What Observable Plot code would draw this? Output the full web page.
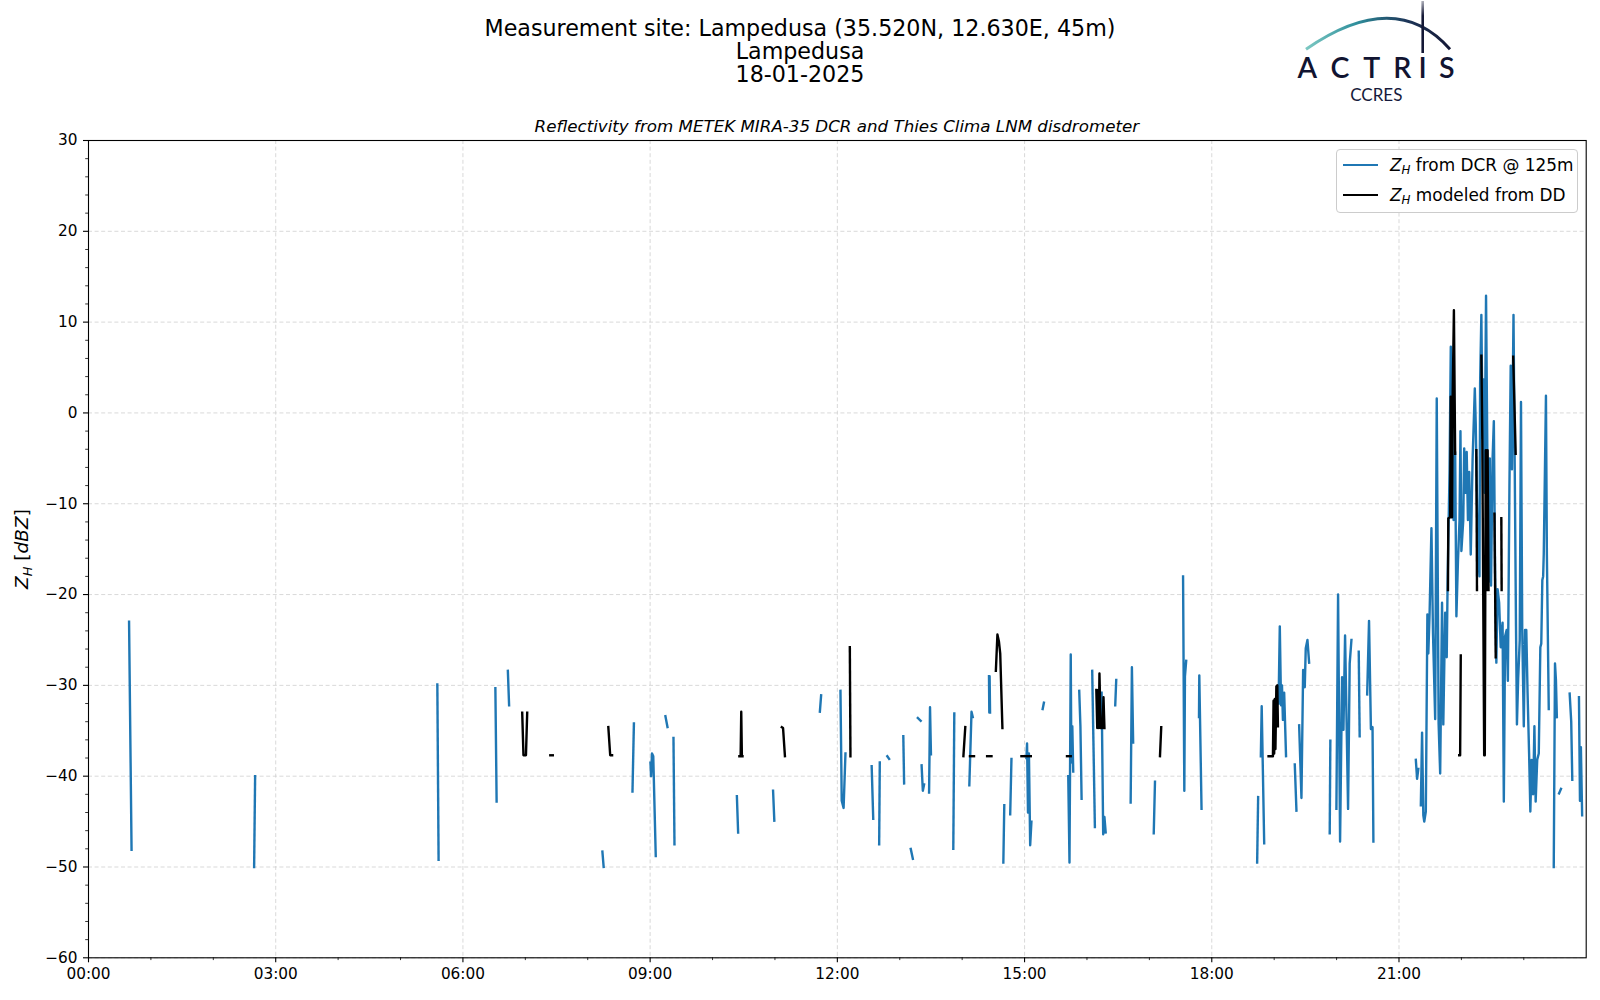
<!DOCTYPE html>
<html>
<head>
<meta charset="utf-8">
<script src="https://cdn.jsdelivr.net/npm/d3@7"></script>
<script src="https://cdn.jsdelivr.net/npm/@observablehq/plot@0.6"></script>
<style>
html,body{margin:0;padding:0;background:#fff;overflow:hidden;}
#fig{position:relative;width:1600px;height:1000px;font-family:"DejaVu Sans",sans-serif;color:#000;}
#header{height:110px;}
.ov{position:absolute;z-index:3;}
#title{left:0;top:17px;width:1600px;text-align:center;font-size:22.2px;line-height:23px;white-space:nowrap;}
#subtitle{left:88px;top:115.5px;width:1497.7px;text-align:center;font-size:16.7px;line-height:20px;font-style:italic;white-space:nowrap;}
#ylabel{left:23px;top:548.5px;transform:translate(-50%,-50%) rotate(-90deg);font-size:18.5px;white-space:nowrap;}
#ylabel sub, #legend sub{font-size:0.7em;vertical-align:-0.25em;}
#legend{left:1336px;top:149px;width:240px;height:62px;border:1px solid #cccccc;border-radius:4px;background:rgba(255,255,255,0.85);}
.lrow{position:absolute;left:0;height:30px;width:240px;}
.lsw{position:absolute;left:6px;top:14px;width:35px;height:0;border-top:2.3px solid;}
.ltx{position:absolute;left:53px;top:0;line-height:30px;font-size:16.9px;white-space:nowrap;}
#chart{position:absolute;left:0;top:110px;z-index:1;}
</style>
</head>
<body>
<div id="fig">
  <div id="header"></div>
  <div id="title" class="ov">Measurement site: Lampedusa (35.520N, 12.630E, 45m)<br>Lampedusa<br>18-01-2025</div>
  <svg class="ov" style="left:0;top:0" width="1600" height="110">
    <defs>
      <linearGradient id="arcg" x1="1306" y1="0" x2="1450" y2="0" gradientUnits="userSpaceOnUse">
        <stop offset="0" stop-color="#7cc8c2"/>
        <stop offset="0.35" stop-color="#2f8f9c"/>
        <stop offset="0.7" stop-color="#1d3558"/>
        <stop offset="1" stop-color="#141836"/>
      </linearGradient>
      <linearGradient id="vg" x1="0" y1="0" x2="0" y2="53" gradientUnits="userSpaceOnUse">
        <stop offset="0" stop-color="#141836" stop-opacity="0.3"/>
        <stop offset="0.3" stop-color="#141836" stop-opacity="1"/>
      </linearGradient>
    </defs>
    <path d="M1306,49.3 Q1395.4,-12.7 1450,49.3" fill="none" stroke="url(#arcg)" stroke-width="3"/>
    <line x1="1422.7" y1="1" x2="1422.7" y2="53" stroke="url(#vg)" stroke-width="2.6"/>
    <g font-family="Lato, 'Open Sans', sans-serif" font-size="28.5" fill="#111431" text-anchor="middle" font-weight="600">
      <text x="1307.3" y="77.5">A</text>
      <text x="1340" y="77.5">C</text>
      <text x="1371.7" y="77.5">T</text>
      <text x="1402.3" y="77.5">R</text>
      <text x="1422.7" y="77.5">I</text>
      <text x="1446.7" y="77.5">S</text>
    </g>
    <text x="1376.3" y="100.5" font-family="Lato, 'Open Sans', sans-serif" font-size="17" fill="#161a3c" text-anchor="middle">CCRES</text>
  </svg>
  <div id="subtitle" class="ov">Reflectivity from METEK MIRA-35 DCR and Thies Clima LNM disdrometer</div>
  <div id="ylabel" class="ov"><i>Z</i><sub><i>H</i></sub> [<i>dBZ</i>]</div>
  <div id="legend" class="ov">
    <div class="lrow" style="top:0px"><div class="lsw" style="border-color:#1f77b4"></div><div class="ltx"><i>Z</i><sub><i>H</i></sub> from DCR @ 125m</div></div>
    <div class="lrow" style="top:30px"><div class="lsw" style="border-color:#000"></div><div class="ltx"><i>Z</i><sub><i>H</i></sub> modeled from DD</div></div>
  </div>
  <div id="chart"></div>
</div>
<script>
// ---- tick values ----
const xTicks = [0, 3, 6, 9, 12, 15, 18, 21];
const xMinor = [1, 2, 4, 5, 7, 8, 10, 11, 13, 14, 16, 17, 19, 20, 22, 23];
const yTicks = [-60, -50, -40, -30, -20, -10, 0, 10, 20, 30];
const yMinor = [-58,-56,-54,-52,-48,-46,-44,-42,-38,-36,-34,-32,-28,-26,-24,-22,-18,-16,-14,-12,-8,-6,-4,-2,2,4,6,8,12,14,16,18,22,24,26,28];

// ---- Z_H from DCR @ 125m : segments of [hour, dBZ] ----
const dcrSegments = [
  [[0.65,-23],[0.69,-48.1]],
  [[2.654,-50],[2.67,-40]],
  [[5.59,-29.9],[5.61,-49.2]],
  [[6.52,-30.3],[6.54,-42.8]],
  [[6.72,-28.4],[6.74,-32.2]],
  [[8.235,-48.3],[8.255,-50]],
  [[8.717,-41.7],[8.74,-34.2]],
  [[9.005,-38.5],[9.015,-40],[9.03,-37.5],[9.05,-37.8],[9.09,-48.8]],
  [[9.245,-33.4],[9.278,-34.6]],
  [[9.374,-35.8],[9.39,-47.5]],
  [[10.39,-42.2],[10.41,-46.2]],
  [[10.97,-41.6],[10.99,-44.9]],
  [[11.72,-32.9],[11.74,-31.1]],
  [[12.05,-30.6],[12.07,-42.7],[12.10,-43.5],[12.13,-37.5]],
  [[12.55,-38.9],[12.575,-44.7]],
  [[12.67,-47.5],[12.68,-38.5]],
  [[12.80,-37.8],[12.83,-38.1]],
  [[13.057,-35.6],[13.07,-40.8]],
  [[13.176,-48],[13.21,-49.1]],
  [[13.29,-33.6],[13.335,-33.9]],
  [[13.35,-38.8],[13.37,-41.6],[13.39,-40.9]],
  [[13.47,-41.8],[13.485,-32.4],[13.50,-37.6]],
  [[13.858,-48],[13.874,-33.1]],
  [[14.115,-41],[14.15,-32.9],[14.17,-33.5]],
  [[14.43,-29],[14.435,-33],[14.44,-29],[14.447,-33]],
  [[14.66,-49.5],[14.675,-43.2]],
  [[14.77,-44.2],[14.79,-38.1]],
  [[15.03,-38],[15.04,-36.4],[15.055,-44],[15.07,-37.5],[15.09,-47.6],[15.11,-45]],
  [[15.29,-32.6],[15.31,-31.9]],
  [[15.70,-40],[15.72,-49.5],[15.74,-26.6],[15.75,-38.5],[15.765,-34.5],[15.78,-39.5]],
  [[15.876,-30.6],[15.895,-34.5],[15.914,-42.5]],
  [[16.084,-28.4],[16.127,-45.6]],
  [[16.235,-30.8],[16.26,-46.4],[16.28,-44.5],[16.30,-46.2]],
  [[16.453,-32.2],[16.469,-29.4]],
  [[16.70,-42.9],[16.72,-28],[16.74,-36.3]],
  [[17.07,-46.3],[17.09,-40.6]],
  [[17.54,-18],[17.56,-41.6],[17.57,-29],[17.59,-27.3]],
  [[17.795,-33.5],[17.80,-28.9],[17.836,-43.6]],
  [[18.727,-49.5],[18.743,-42.3]],
  [[18.786,-37.8],[18.80,-32.3],[18.84,-47.4]],
  [[19.07,-32],[19.09,-23.5],[19.11,-32.2],[19.125,-30],[19.14,-33.8],[19.16,-30.8],[19.19,-37.8]],
  [[19.33,-38.7],[19.357,-43.8]],
  [[19.40,-34.4],[19.437,-42.4],[19.464,-28.3],[19.49,-30.2],[19.506,-25.9],[19.533,-25],[19.56,-27.5]],
  [[19.89,-46.3],[19.90,-36.1]],
  [[19.997,-43.6],[20.024,-20],[20.056,-47.2],[20.088,-29.1],[20.11,-34.9],[20.136,-24.5],[20.158,-33.1],[20.184,-43.6],[20.21,-27.6],[20.238,-25]],
  [[20.355,-26.3],[20.37,-35.6]],
  [[20.49,-31],[20.52,-22.9],[20.55,-34.8],[20.576,-34.6],[20.59,-47.2]],
  [[21.27,-38.2],[21.29,-40.3],[21.31,-39.2]],
  [[21.35,-43.2],[21.37,-35.2],[21.39,-44.3],[21.405,-45],[21.43,-43.9],[21.455,-22.2],[21.47,-26.5],[21.49,-22.2],
   [21.52,-12.7],[21.545,-24.3],[21.58,-33.7],[21.605,1.6],[21.635,-34.2],[21.66,-39.7],[21.69,-20.9],[21.71,-34.3],
   [21.74,-22],[21.765,-26.9],[21.78,-18.2],[21.81,-6.5],[21.83,7.3],[21.855,-2.4],[21.875,-11.8],[21.90,-4.3],
   [21.92,-22.4],[21.945,-16.3],[21.97,-11.8],[21.985,-2],[22.0,-15.2],[22.03,-11.8],[22.045,-3.9],[22.065,-8.8],
   [22.085,-4.3],[22.105,-11.8],[22.125,-6.5],[22.15,-15.6],[22.18,-5],[22.215,2.7],[22.23,-1.2],[22.245,-8],
   [22.265,-14.8],[22.29,-18],[22.30,3.3],[22.32,10.8],[22.34,-2.8],[22.355,3.7],[22.37,-8.8],[22.395,12.9],
   [22.42,-8],[22.435,-18.6],[22.455,-5],[22.475,-19],[22.50,-5],[22.52,-0.9],[22.54,-17.5],[22.56,-27.5],
   [22.58,-19.4],[22.605,-20.9],[22.63,-25.8],[22.66,-23.1],[22.68,-42.8],[22.70,-24.6],[22.725,-23.9],[22.745,-29.5],
   [22.77,-8],[22.79,5.2],[22.81,-6.2],[22.835,10.8],[22.855,-6.2],[22.875,-23.5],[22.89,-34.3],[22.91,-29.2],
   [22.935,-25],[22.955,1.2],[22.975,-23.9],[23.0,-34.5],[23.02,-23.9],[23.04,-23.9],[23.06,-30.7],[23.085,-37.5],
   [23.105,-43.9],[23.125,-38.2],[23.15,-42],[23.17,-34.5],[23.19,-42.8],[23.215,-38.2],[23.24,-37.5],[23.265,-25.8],
   [23.28,-25.4],[23.297,-18.4],[23.31,-18],[23.32,-15.5],[23.355,1.9],[23.37,-15.6],[23.385,-24.3],[23.40,-32.6]],
  [[23.48,-50],[23.50,-27.6],[23.515,-29.4],[23.53,-33.5]],
  [[23.565,-41.9],[23.596,-41.4]],
  [[23.735,-30.9],[23.76,-34],[23.777,-40.4]],
  [[23.884,-31.3],[23.90,-42.7],[23.915,-36.8],[23.935,-44.3]]
];

// ---- Z_H modeled from DD : segments of [hour, dBZ] ----
const ddSegments = [
  [[6.95,-33],[6.97,-37.7],[7.01,-37.7],[7.03,-33]],
  [[7.40,-37.7],[7.44,-37.7]],
  [[8.33,-34.6],[8.36,-37.7],[8.39,-37.7]],
  [[10.43,-37.8],[10.45,-37.8],[10.46,-32.9],[10.47,-37.8],[10.48,-37.8]],
  [[11.11,-34.6],[11.13,-34.7],[11.16,-37.8]],
  [[12.20,-25.8],[12.21,-37.8]],
  [[14.02,-37.8],[14.05,-34.6]],
  [[14.125,-37.8],[14.19,-37.8]],
  [[14.40,-37.8],[14.47,-37.8]],
  [[14.54,-28.4],[14.565,-24.4],[14.59,-25.2],[14.61,-26.5],[14.645,-34.7]],
  [[14.95,-37.8],[15.10,-37.8]],
  [[15.68,-37.8],[15.74,-37.8]],
  [[16.15,-30.5],[16.165,-34.7],[16.18,-30.5],[16.19,-34.7],[16.20,-28.7],[16.22,-34.7],[16.25,-34.7],[16.265,-31.3],[16.28,-34.7]],
  [[17.17,-37.8],[17.19,-34.6]],
  [[18.91,-37.8],[18.98,-37.8],[18.99,-31.7],[19.00,-37.5],[19.01,-31.5],[19.02,-37],[19.035,-30.1],[19.05,-30],[19.06,-34.5]],
  [[21.785,-19.5],[21.79,-11.6],[21.82,-11.5],[21.83,1.8],[21.85,-11.5],[21.86,1.8],[21.88,11.3],[21.90,-4.5]],
  [[21.965,-37.7],[21.98,-37.7],[21.99,-26.7]],
  [[22.24,-4.1],[22.25,-19.5]],
  [[22.32,6.3],[22.335,-2.6],[22.365,-37.7],[22.375,-37.7],[22.39,-4.1],[22.40,-4.1],[22.41,-19.5],[22.42,-4.1],[22.435,-19.5]],
  [[22.53,-11.1],[22.55,-26.9]],
  [[22.64,-11.6],[22.645,-19.5]],
  [[22.83,6.2],[22.87,-4.5]]
];

const toRows = segs => segs.flatMap((s, i) => s.map(([h, v]) => ({h, v, seg: i})));
const dcrRows = toRows(dcrSegments);
const ddRows = toRows(ddSegments);
const fmtHour = h => String(h).padStart(2, "0") + ":00";

const gridStyle = {stroke: "#cfcfcf", strokeOpacity: 1, strokeWidth: 0.8, strokeDasharray: "4,2.6"};
const lineStyle = {x: "h", y: "v", z: "seg", strokeWidth: 2.4, strokeLinecap: "square", strokeLinejoin: "round", clip: true};

const chart = Plot.plot({
  width: 1600,
  height: 890,
  marginTop: 30,
  marginBottom: 42.7,
  marginLeft: 88,
  marginRight: 14.3,
  style: {fontFamily: "DejaVu Sans, sans-serif", fontSize: "15.3px", color: "black", background: "transparent", overflow: "visible"},
  x: {domain: [0, 24]},
  y: {domain: [-60, 30]},
  marks: [
    Plot.gridX(xTicks, gridStyle),
    Plot.gridY(yTicks, gridStyle),
    Plot.line(dcrRows, {...lineStyle, stroke: "#1f77b4"}),
    Plot.line(ddRows, {...lineStyle, stroke: "black"}),
    Plot.frame({stroke: "black", strokeWidth: 1.1}),
    Plot.axisX(xTicks, {tickSize: 5, tickPadding: 5, tickFormat: fmtHour, label: null, strokeWidth: 1.1}),
    Plot.axisX(xMinor, {tickSize: 2.8, tickFormat: () => "", label: null, strokeWidth: 0.8}),
    Plot.axisY(yTicks, {tickSize: 5, tickPadding: 6, label: null, strokeWidth: 1.1}),
    Plot.axisY(yMinor, {tickSize: 2.8, tickFormat: () => "", label: null, strokeWidth: 0.8})
  ]
});
document.getElementById("chart").appendChild(chart);
</script>
</body>
</html>
